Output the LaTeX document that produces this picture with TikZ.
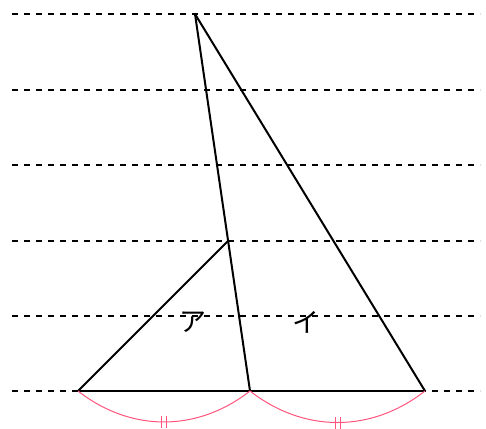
\documentclass[tikz,border=0pt]{standalone}
\usepackage{fontspec}
\usetikzlibrary{calc}
\newfontfamily\jpfont{Noto Sans CJK JP}
\begin{document}
\begin{tikzpicture}[x=1pt,y=1pt,
  guide/.style={black, line width=1.1pt, dash pattern=on 6pt off 6pt},
  edge/.style={black, line width=2pt, line join=round},
  eqarc/.style={draw=pinkline, line width=1pt},
  tick/.style={draw=pinkline, line width=1pt},
  lab/.style={font=\jpfont\fontsize{27}{27}\selectfont, inner sep=0pt}]
\definecolor{pinkline}{RGB}{255,85,125}
\useasboundingbox (0,0) rectangle (486,428);
% guide lines
\foreach \y/\n in {414/a,338/b,263/c,187/d,112/e,37/f}{
  \coordinate (gl\n) at (12,\y);
  \coordinate (gr\n) at (480,\y);
  \draw[guide] (gl\n) -- (gr\n);
}
% points
\coordinate (A) at (195,414);
\coordinate (BL) at (78,37);
\coordinate (BM) at (250,37);
\coordinate (BR) at (425,37);
\coordinate (M) at ($(A)!0.602!(BM)$);
% triangles
\draw[edge] (A) -- (BM);
\draw[edge] (A) -- (BR);
\draw[edge] (BL) -- (BR);
\draw[edge] (BL) -- (M);
% labels
\node[lab] (la) at (193,106) {ア};
\node[lab] (li) at (306,106) {イ};
% equal arcs
\draw[eqarc] (BL) to[bend right=38] coordinate[pos=0.5] (m1) (BM);
\draw[eqarc] (BM) to[bend right=38] coordinate[pos=0.5] (m2) (BR);
\foreach \m in {m1,m2}{
  \draw[tick] ([shift={(-2.5,-6)}]\m) -- ([shift={(-2.5,6)}]\m);
  \draw[tick] ([shift={(2.5,-6)}]\m) -- ([shift={(2.5,6)}]\m);
}
\end{tikzpicture}
\end{document}
